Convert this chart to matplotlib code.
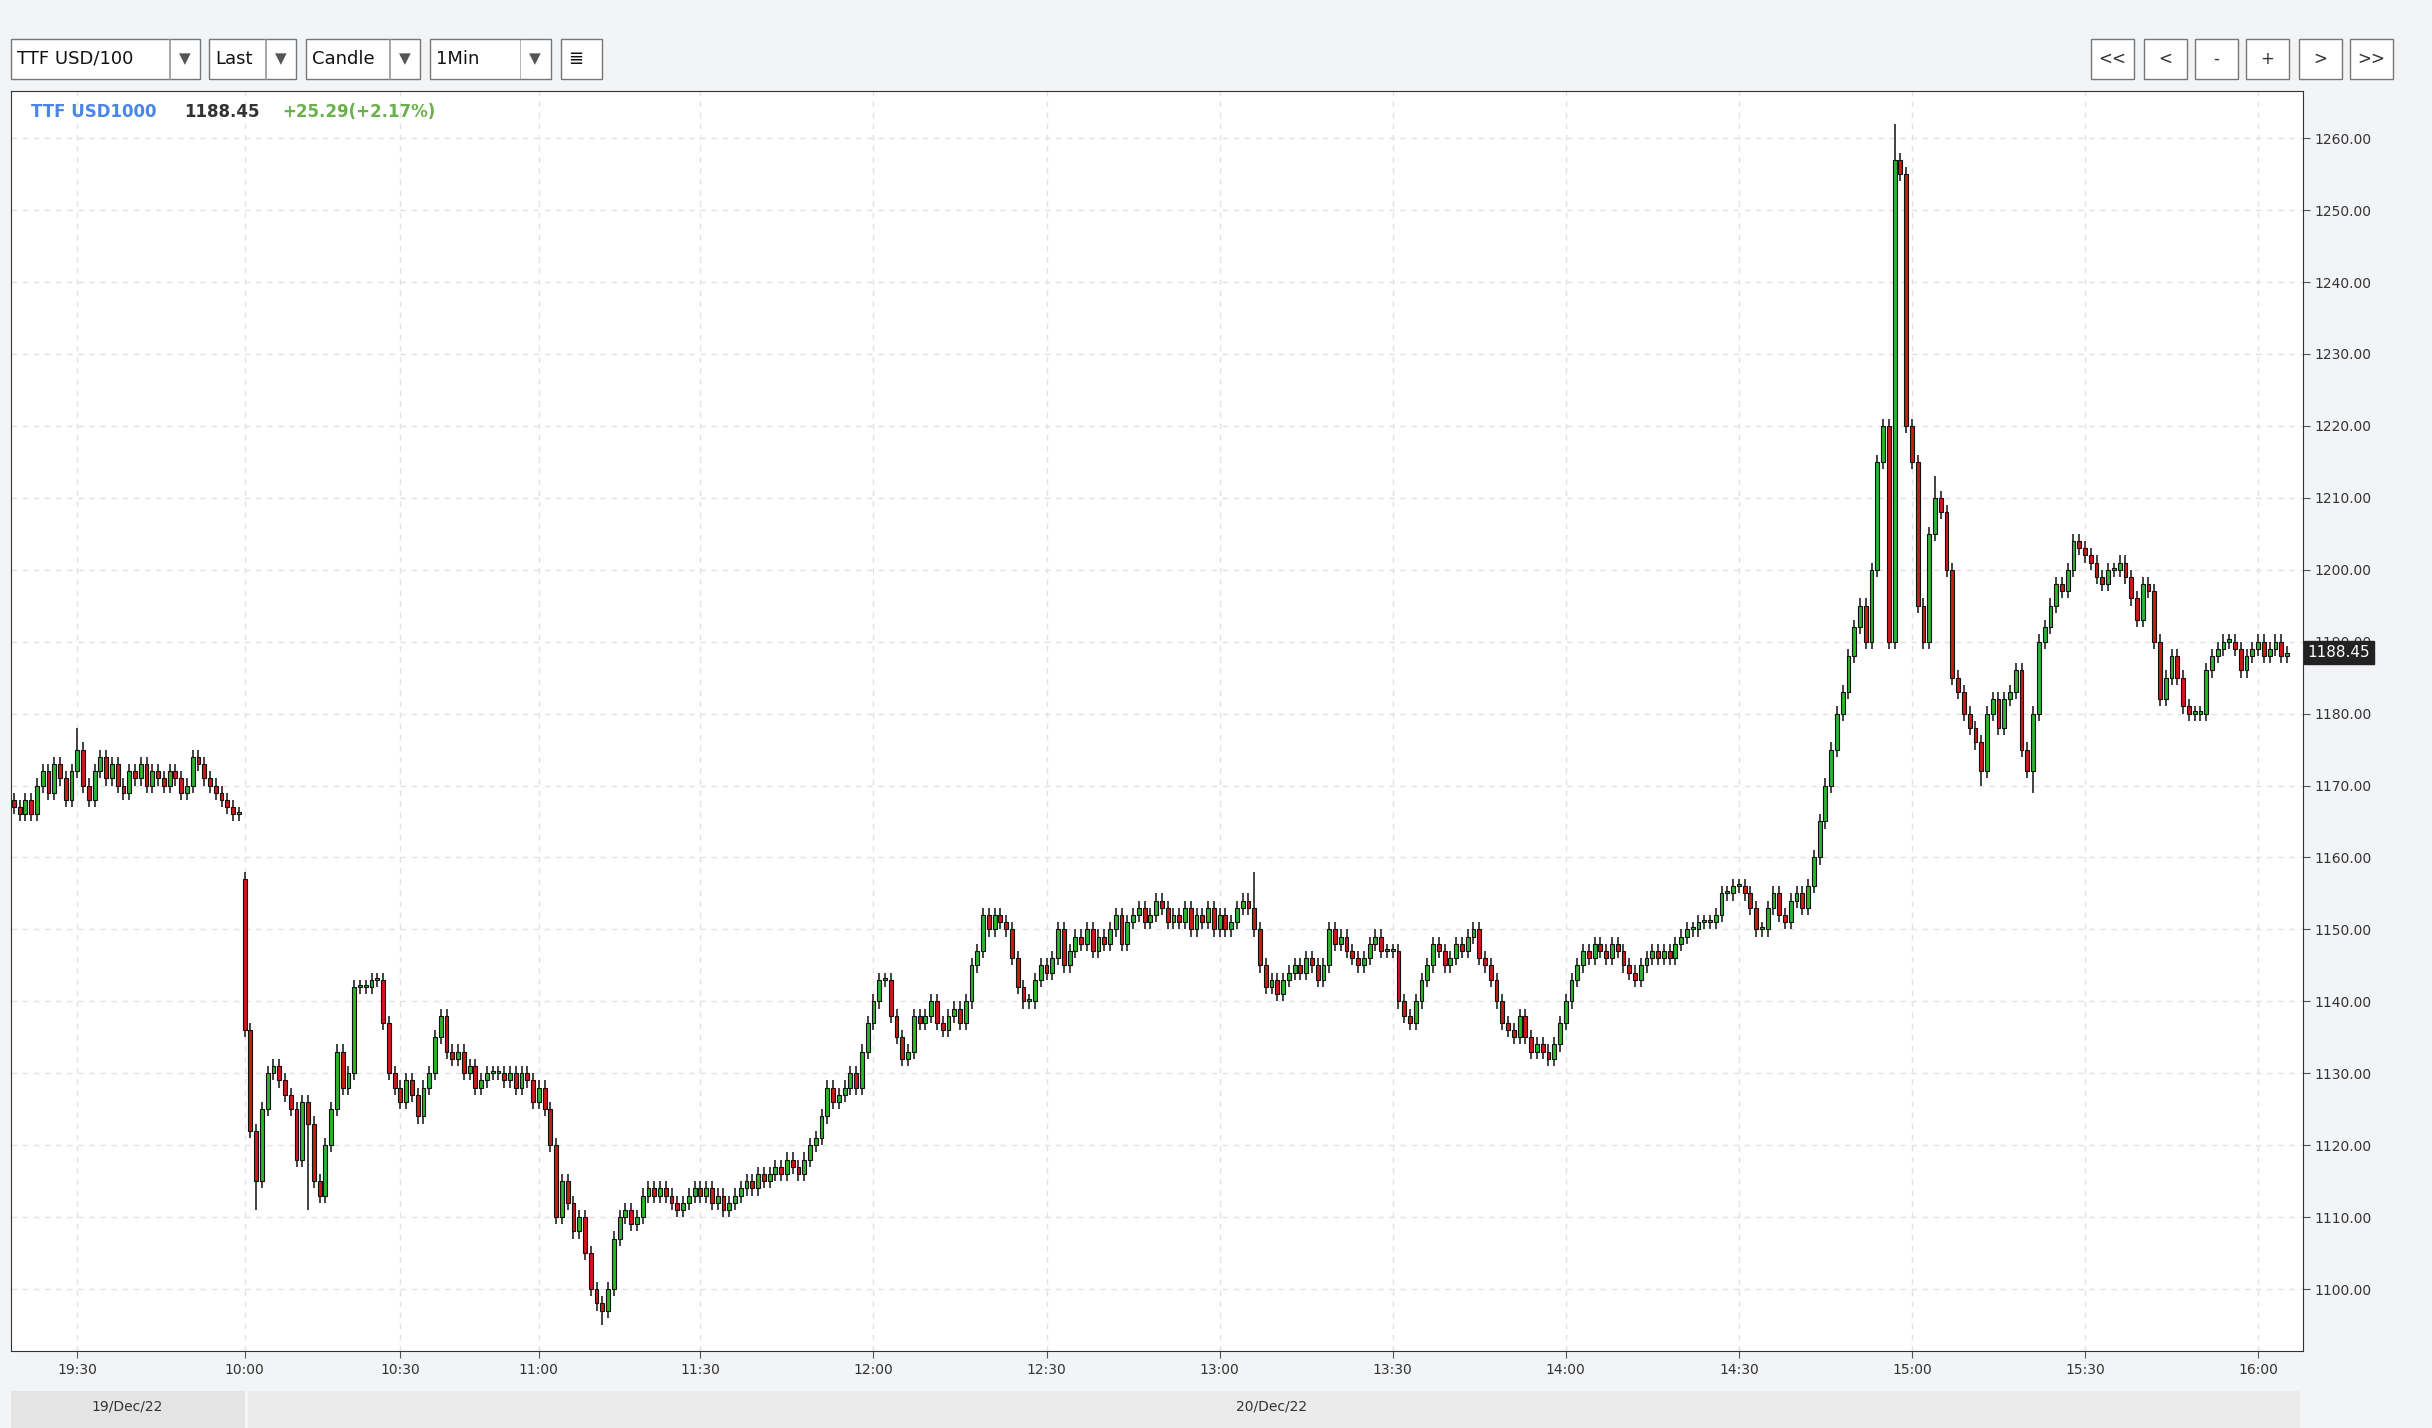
import matplotlib
matplotlib.use("Agg")
import matplotlib.pyplot as plt
from matplotlib.patches import Rectangle
import numpy as np

seg_prev = [1167,1166,1168,1166,1170,1172,1169,1173,1171,1168,1172,1175,1170,1168,1172,1174,1171,1173,1170,1169,
            1172,1171,1173,1170,1172,1171,1170,1172,1171,1169,1170,1174,1173,1171,1170,1169,1168,1167,1166,1166]
seg_1000 = [1136,1122,1115,1125,1130,1131,1129,1127,1125,1118,1126,1123,1115,1113,1120,1125,1133,1128,1130,1142,
            1142,1142,1143,1143,1137,1130,1128]
seg_1030 = [1126,1129,1127,1124,1128,1130,1135,1138,1133,1132,1133,1130,1131,1128,1129,1130,1130,1130,1129,1130,
            1128,1130,1129,1126]
seg_1100 = [1128,1125,1120,1110,1115,1112,1108,1110,1105,1100,1098,1097,1100,1107,1110,1111,1109,1110,1113,1114,
            1113,1114,1113,1112,1111,1112,1113,1114]
seg_1130 = [1113,1114,1112,1113,1111,1112,1113,1114,1115,1114,1116,1115,1116,1117,1116,1118,1117,1116,1118,1120,
            1121,1124,1128,1126,1127,1128,1130,1128,1133,1137]
seg_1200 = [1140,1143,1143,1138,1135,1132,1133,1138,1137,1138,1140,1137,1136,1138,1139,1137,1140,1145,1147,1152,
            1150,1152,1151,1150,1146,1142,1140,1140,1143,1145]
seg_1230 = [1144,1146,1150,1145,1147,1149,1148,1150,1147,1149,1148,1150,1152,1148,1151,1152,1153,1151,1152,1154,
            1153,1151,1152,1151,1153,1150,1152,1151,1153,1150]
seg_1300 = [1152,1150,1151,1153,1154,1153,1150,1145,1142,1143,1141,1143,1144,1145,1144,1146,1145,1143,1145,1150,
            1148,1149,1147,1146,1145,1146,1148,1149,1147,1147]
seg_1330 = [1147,1140,1138,1137,1140,1143,1145,1148,1147,1145,1146,1148,1147,1149,1150,1146,1145,1143,1140,1137,
            1136,1135,1138,1135,1133,1134,1133,1132,1134,1137]
seg_1400 = [1140,1143,1145,1147,1146,1148,1147,1146,1148,1147,1145,1144,1143,1145,1146,1147,1146,1147,1146,1148,
            1149,1150,1150,1151,1151,1151,1152,1155,1155,1156]
seg_1430 = [1156,1155,1153,1150,1150,1153,1155,1152,1151,1154,1155,1153,1156,1160,1165,1170,1175,1180,1183,1188,
            1192,1195,1190,1200,1215,1220,1190,1257,1255,1220]
seg_1500 = [1215,1195,1190,1205,1210,1208,1200,1185,1183,1180,1178,1176,1172,1180,1182,1178,1182,1183,1186,1175,
            1172,1180,1190,1192,1195,1198,1197,1200,1204,1203]
seg_1530 = [1202,1201,1199,1198,1200,1200,1201,1199,1196,1193,1198,1197,1190,1182,1185,1188,1185,1181,1180,1180,
            1180,1186,1188,1189,1190,1190,1189,1186,1188,1189,1190,1188,1189,1190,1188,1188.45]
gap_open = 1157
extra_high = {326: 1262, 327: 1256, 333: 1213, 215: 1158, 11: 1178}
extra_low = {42: 1111, 51: 1111, 102: 1095, 341: 1170, 350: 1169}

tick_labels = ["19:30","10:00","10:30","11:00","11:30","12:00","12:30","13:00","13:30","14:00","14:30","15:00","15:30","16:00"]
y_ticks = [1100,1110,1120,1130,1140,1150,1160,1170,1180,1190,1200,1210,1220,1230,1240,1250,1260]

segs = [seg_prev, seg_1000, seg_1030, seg_1100, seg_1130, seg_1200, seg_1230, seg_1300, seg_1330,
        seg_1400, seg_1430, seg_1500, seg_1530]
closes = np.array([v for s in segs for v in s], float)
starts = np.cumsum([0] + [len(s) for s in segs])
tick_pos = [11] + list(starts[1:-1]) + [starts[-2] + 30]
opens = np.r_[closes[0] + 1, closes[:-1]]
opens[len(seg_prev)] = gap_open
highs = np.maximum(opens, closes) + 1.0
lows = np.minimum(opens, closes) - 1.0
for k, v in extra_high.items():
    highs[k] = max(highs[k], v)
for k, v in extra_low.items():
    lows[k] = min(lows[k], v)

fig = plt.figure(figsize=(24.32, 14.28), dpi=100, facecolor="#f3f4f6")
ax = fig.add_axes([0.0045, 0.054, 0.9425, 0.882])
ax.set_facecolor("white")
n = len(closes)
for i in range(n):
    o, c, h, l = opens[i], closes[i], highs[i], lows[i]
    ax.vlines(i, l, h, color="#222222", lw=1.2, zorder=2)
    col = "#2db52d" if c >= o else "#d01818"
    ax.add_patch(Rectangle((i - 0.33, min(o, c)), 0.66, max(abs(c - o), 0.3),
                           facecolor=col, edgecolor="#111111", lw=0.8, zorder=3))
ax.set_xlim(-0.5, 396.8)
ax.set_ylim(1091.4, 1266.5)
ax.yaxis.tick_right()
ax.set_yticks(y_ticks)
ax.set_yticklabels([f"{v:.2f}" for v in y_ticks], fontsize=10, color="#333333")
ax.set_xticks(tick_pos)
ax.set_xticklabels(tick_labels, fontsize=10, color="#333333")
ax.tick_params(length=5, color="#555555")
ax.grid(True, ls=(0, (4, 4)), color="#e2e2e2", lw=1)
for s in ax.spines.values():
    s.set_color("#333333")

fig.text(20 / 1568, 1 - 72 / 921, "TTF USD1000", color="#4a86e8", fontsize=12, fontweight="bold", va="center")
fig.text(119 / 1568, 1 - 72 / 921, "1188.45", color="#333333", fontsize=12, fontweight="bold", va="center")
fig.text(182 / 1568, 1 - 72 / 921, "+25.29(+2.17%)", color="#6ab04c", fontsize=12, fontweight="bold", va="center")
ax.text(1.002, (closes[-1] - 1091.4) / (1266.5 - 1091.4), "1188.45", transform=ax.transAxes, color="white",
        fontsize=11, va="center", ha="left", bbox=dict(boxstyle="square,pad=0.25", fc="#222222", ec="#222222"))

def box(x0, w, label, arrow=True):
    fig.patches.append(Rectangle((x0 / 1568, 1 - 51 / 921), w / 1568, 26 / 921, transform=fig.transFigure,
                                 fc="white", ec="#777777", lw=1))
    fig.text((x0 + 4) / 1568, 1 - 38 / 921, label, fontsize=13, va="center", color="#111111")
    if arrow:
        fig.patches.append(Rectangle(((x0 + w - 20) / 1568, 1 - 51 / 921), 0.5 / 1568, 26 / 921,
                                     transform=fig.transFigure, fc="#999999", ec="#999999", lw=0.5))
        fig.text((x0 + w - 10) / 1568, 1 - 38 / 921, "▼", fontsize=11, va="center", ha="center", color="#555555")
box(7, 122, "TTF USD/100")
box(135, 56, "Last")
box(197, 74, "Candle")
box(277, 78, "1Min")
box(362, 26, "≣", arrow=False)
for x0, lab in [(1348, "<<"), (1382, "<"), (1415, "-"), (1448, "+"), (1482, ">"), (1515, ">>")]:
    fig.patches.append(Rectangle((x0 / 1568, 1 - 51 / 921), 28 / 1568, 26 / 921, transform=fig.transFigure,
                                 fc="white", ec="#777777", lw=1))
    fig.text((x0 + 14) / 1568, 1 - 38 / 921, lab, fontsize=12, va="center", ha="center", color="#333333")
fig.patches.append(Rectangle((7 / 1568, 0.0), 151 / 1568, 24 / 921, transform=fig.transFigure, fc="#e4e4e4", ec="none"))
fig.patches.append(Rectangle((160 / 1568, 0.0), 1323 / 1568, 24 / 921, transform=fig.transFigure, fc="#ebebeb", ec="none"))
fig.text(82 / 1568, 14 / 921, "19/Dec/22", fontsize=10, ha="center", va="center", color="#333333")
fig.text(820 / 1568, 14 / 921, "20/Dec/22", fontsize=10, ha="center", va="center", color="#333333")
fig.savefig("out.png", dpi=100, facecolor=fig.get_facecolor())
